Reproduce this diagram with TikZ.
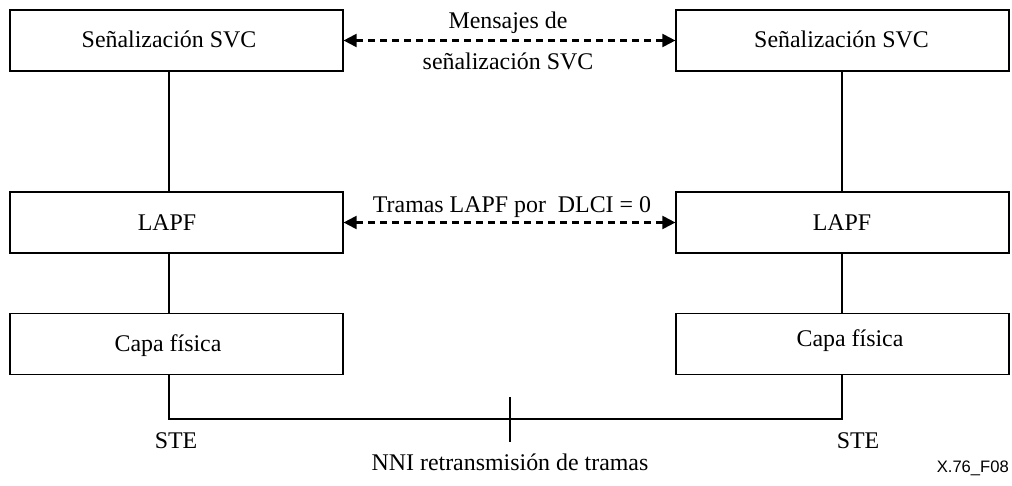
\documentclass[tikz,border=0pt]{standalone}
\usepackage{fontspec}
\setmainfont{Liberation Serif}
\newfontfamily\figsans{Liberation Sans}
\usetikzlibrary{arrows.meta}
\begin{document}
\begin{tikzpicture}[x=1pt,y=-1pt,
  layerbox/.style={draw, line width=1.2pt, minimum width=333pt, minimum height=61pt, inner sep=0pt},
  txt/.style={anchor=base, inner sep=0pt, font=\fontsize{23.9}{28}\selectfont},
  link/.style={line width=1.2pt},
  peer/.style={line width=2.1pt, dash pattern=on 7pt off 5pt,
    {Triangle[length=13pt,width=13pt]}-{Triangle[length=13pt,width=13pt]}},
  tag/.style={anchor=base east, inner sep=0pt, font=\figsans\fontsize{16.6}{19}\selectfont}]
\useasboundingbox (0,0) rectangle (1012,486);

% protocol stacks
\node[layerbox] (sl) at (176.5,40.5) {};
\node[layerbox] (ll) at (176.5,222.5) {};
\node[layerbox] (pl) at (176.5,344) {};
\node[layerbox] (sr) at (842.5,40.5) {};
\node[layerbox] (lr) at (842.5,222.5) {};
\node[layerbox] (pr) at (842.5,344) {};

% layer names
\node[txt] (tsl) at (169,47.7) {Señalización SVC};
\node[txt] (tsr) at (841.5,47.7) {Señalización SVC};
\node[txt] (tll) at (167,230.3) {LAPF};
\node[txt] (tlr) at (842,230.3) {LAPF};
\node[txt] (tpl) at (168,351) {Capa física};
\node[txt] (tpr) at (850,346) {Capa física};

% vertical links inside each stack
\coordinate (xl) at (169,0);
\coordinate (xr) at (842,0);
\draw[link] (sl.south -| xl) -- (ll.north -| xl);
\draw[link] (ll.south -| xl) -- (pl.north -| xl);
\draw[link] (sr.south -| xr) -- (lr.north -| xr);
\draw[link] (lr.south -| xr) -- (pr.north -| xr);

% physical connection between the two STEs
\coordinate (bl) at (169,419);
\coordinate (br) at (842,419);
\draw[link] (pl.south -| xl) -- (bl) -- (br) -- (pr.south -| xr);
\coordinate (nt) at (510,397);
\coordinate (nb) at (510,442);
\draw[line width=2pt] (nt) -- (nb);

% peer-to-peer exchanges
\draw[peer] (sl.east) -- (sr.west);
\draw[peer] (ll.east) -- (lr.west);
\node[txt] (m1) at (508,28.3) {Mensajes de};
\node[txt] (m2) at (508,70) {señalización SVC};
\node[txt] (m3) at (512,213) {Tramas LAPF por\ \ DLCI = 0};

% end labels
\node[txt] (stel) at (176,448) {STE};
\node[txt] (ster) at (858,448) {STE};
\node[txt] (nni) at (510,470) {NNI retransmisión de tramas};
\node[tag] (fig) at (1009,472) {X.76\_F08};
\end{tikzpicture}
\end{document}
